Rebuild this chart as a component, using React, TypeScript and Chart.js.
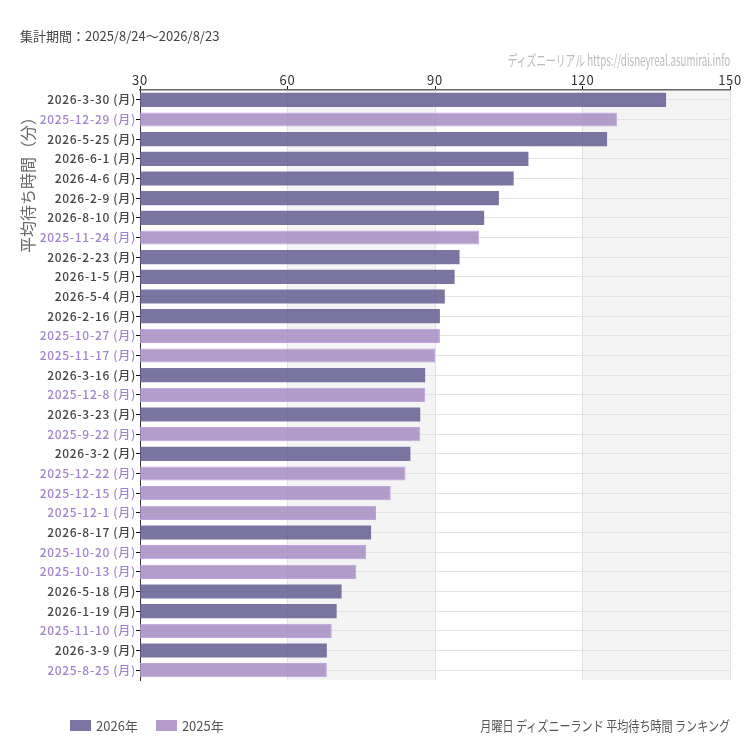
import React, { useEffect, useRef } from 'react';
import { Chart, registerables } from 'chart.js';

Chart.register(...registerables);

// 月曜日の平均待ち時間（分）ランキング
const dayLabels = [
    '2026-3-30 (月)', '2025-12-29 (月)', '2026-5-25 (月)', '2026-6-1 (月)', '2026-4-6 (月)',
    '2026-2-9 (月)', '2026-8-10 (月)', '2025-11-24 (月)', '2026-2-23 (月)', '2026-1-5 (月)',
    '2026-5-4 (月)', '2026-2-16 (月)', '2025-10-27 (月)', '2025-11-17 (月)', '2026-3-16 (月)',
    '2025-12-8 (月)', '2026-3-23 (月)', '2025-9-22 (月)', '2026-3-2 (月)', '2025-12-22 (月)',
    '2025-12-15 (月)', '2025-12-1 (月)', '2026-8-17 (月)', '2025-10-20 (月)', '2025-10-13 (月)',
    '2026-5-18 (月)', '2026-1-19 (月)', '2025-11-10 (月)', '2026-3-9 (月)', '2025-8-25 (月)'
];
const waitMinutes = [
    137, 127, 125, 109, 106,
    103, 100, 99, 95, 94,
    92, 91, 91, 90, 88,
    88, 87, 87, 85, 84,
    81, 78, 77, 76, 74,
    71, 70, 69, 68, 68
];
const xTicks = [30, 60, 90, 120, 150];
const years = ['2026', '2025'];

const yearStyle: Record<string, { bar: string; swatch: string; border: string; border_w: number; tick: string }> = {
    '2026': { bar: 'rgba(100, 94, 145, 0.85)', swatch: '#7b76a1', border: 'rgba(100, 94, 145, 0.85)', border_w: 0, tick: '#444' },
    '2025': { bar: 'rgba(166, 140, 194, 0.85)', swatch: '#b39ccb', border: '#bfa3e0', border_w: 1, tick: '#a184cc' }
};

const yearOf = (label: string) => label.slice(0, 4);

// 背景の縞（60-90, 120-150 を灰色に）
const bandPlugin = {
    id: 'bands',
    beforeDraw(chart: any) {
        const { ctx, chartArea, scales } = chart;
        const x = scales.x;
        ctx.save();
        ctx.fillStyle = '#f3f4f3';
        for (let i = 1; i < xTicks.length - 1; i += 2) {
            const x0 = x.getPixelForValue(xTicks[i]);
            const x1 = x.getPixelForValue(xTicks[i + 1]);
            ctx.fillRect(x0, chartArea.top, x1 - x0, chartArea.bottom - chartArea.top);
        }
        ctx.restore();
        // ラベルの字間を少し広げる
        ctx.letterSpacing = '0.7px';
    }
};

const condensed = (scale: number): React.CSSProperties => ({
    display: 'inline-block',
    transform: `scaleX(${scale})`,
    transformOrigin: 'right center',
    whiteSpace: 'nowrap'
});

export default function App() {
    const chartRef = useRef<HTMLCanvasElement>(null);
    const chartInstance = useRef<Chart | null>(null);

    useEffect(() => {
        const ctx = chartRef.current?.getContext('2d');
        if (!ctx) return;

        if (chartInstance.current) {
            chartInstance.current.destroy();
        }

        chartInstance.current = new Chart(ctx, {
            type: 'bar',
            data: {
                labels: dayLabels,
                datasets: [{
                    label: '平均待ち時間',
                    data: waitMinutes,
                    backgroundColor: dayLabels.map(l => yearStyle[yearOf(l)].bar),
                    borderColor: dayLabels.map(l => yearStyle[yearOf(l)].border),
                    borderWidth: dayLabels.map(l => yearStyle[yearOf(l)].border_w),
                    borderSkipped: false
                }]
            },
            options: {
                indexAxis: 'y',
                animation: false,
                responsive: true,
                maintainAspectRatio: false,
                layout: {
                    padding: { left: 0, top: 0, right: 20, bottom: 70 }
                },
                scales: {
                    x: {
                        position: 'top',
                        min: xTicks[0],
                        max: xTicks[xTicks.length - 1],
                        afterFit: (scale: any) => { scale.height = 90; },
                        ticks: {
                            stepSize: 30,
                            color: '#333',
                            padding: -2,
                            font: { family: '"Noto Sans CJK JP", "Noto Sans", sans-serif', size: 13 }
                        },
                        grid: {
                            color: '#e3e3e3',
                            tickColor: '#111',
                            tickLength: 4
                        },
                        border: { color: '#666', width: 1.5 }
                    },
                    y: {
                        afterFit: (scale: any) => { scale.width = 140; },
                        ticks: {
                            autoSkip: false,
                            padding: 0,
                            color: (c: any) => yearStyle[yearOf(dayLabels[c.index])].tick,
                            font: { family: '"Noto Sans CJK JP", "Noto Sans", sans-serif', size: 12, weight: 500 }
                        },
                        grid: {
                            offset: false,
                            color: '#e4e4e4',
                            tickColor: '#111',
                            tickLength: 4
                        },
                        border: { color: '#333', width: 1 }
                    }
                },
                plugins: {
                    legend: { display: false },
                    tooltip: { enabled: false }
                }
            },
            plugins: [bandPlugin]
        });

        return () => {
            if (chartInstance.current) {
                chartInstance.current.destroy();
                chartInstance.current = null;
            }
        };
    }, []);

    const font = '"Noto Sans CJK JP", "Noto Sans", sans-serif';

    return (
        <div style={{ position: 'fixed', left: 0, top: 0, width: 750, height: 750, background: '#fff', fontFamily: font }}>
            <div style={{ position: 'absolute', left: 0, top: 0, width: 750, height: 750 }}>
                <canvas ref={chartRef}></canvas>
            </div>
            <div style={{ position: 'absolute', left: 20, top: 26, fontSize: 13, color: '#444', whiteSpace: 'nowrap' }}>
                集計期間：2025/8/24〜2026/8/23
            </div>
            <div style={{ position: 'absolute', right: 20, top: 49, fontSize: 15, color: '#bbb', textAlign: 'right' }}>
                <span style={condensed(0.65)}>ディズニーリアル https://disneyreal.asumirai.info</span>
            </div>
            <div style={{
                position: 'absolute', left: 27, top: 181, fontSize: 16, color: '#666', whiteSpace: 'nowrap',
                transform: 'translate(-50%, -50%) rotate(-90deg)'
            }}>
                平均待ち時間（分）
            </div>
            <div style={{ position: 'absolute', left: 70, top: 716, display: 'flex', alignItems: 'center', fontSize: 13, color: '#555' }}>
                {years.map(y => (
                    <div key={y} style={{ display: 'flex', alignItems: 'center', marginRight: 18 }}>
                        <span style={{ display: 'inline-block', width: 21, height: 11, background: yearStyle[y].swatch, marginRight: 5 }}></span>
                        <span>{y}年</span>
                    </div>
                ))}
            </div>
            <div style={{ position: 'absolute', right: 20, top: 715, fontSize: 14, color: '#555', textAlign: 'right' }}>
                <span style={condensed(0.79)}>月曜日 ディズニーランド 平均待ち時間 ランキング</span>
            </div>
        </div>
    );
}
